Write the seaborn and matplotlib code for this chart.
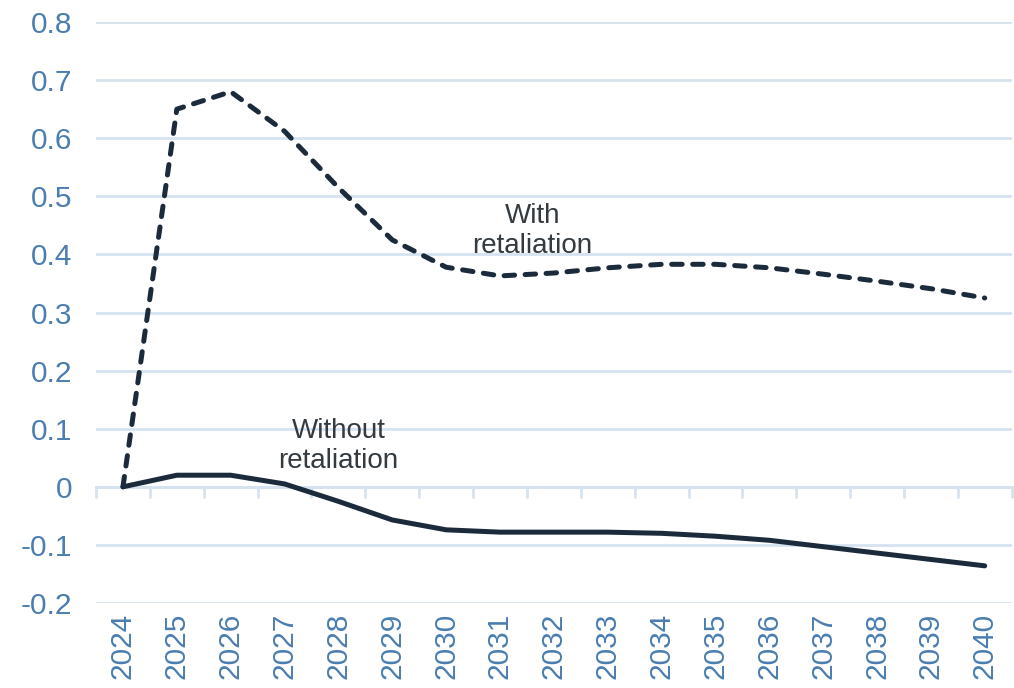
import matplotlib
matplotlib.use("Agg")
import matplotlib.pyplot as plt
import seaborn as sns
import pandas as pd

years = [str(y) for y in range(2024, 2041)]
with_retaliation = [0.0, 0.65, 0.68, 0.612, 0.515, 0.425, 0.378, 0.363, 0.368, 0.377,
                    0.383, 0.383, 0.377, 0.366, 0.354, 0.341, 0.325]
without_retaliation = [0.0, 0.02, 0.02, 0.005, -0.025, -0.057, -0.074, -0.078, -0.078,
                       -0.078, -0.080, -0.085, -0.092, -0.103, -0.114, -0.125, -0.136]
y_ticks = [-0.2, -0.1, 0, 0.1, 0.2, 0.3, 0.4, 0.5, 0.6, 0.7, 0.8]
y_tick_labels = ["-0.2", "-0.1", "0", "0.1", "0.2", "0.3", "0.4", "0.5", "0.6", "0.7", "0.8"]

LINE = "#1b2b3b"
TICK = "#4a7db0"
GRID = "#d5e2ef"
NOTE = "#333a40"

sns.set_theme(style="white")
plt.rcParams["font.family"] = ["Liberation Sans", "DejaVu Sans"]

df = pd.DataFrame({
    "pos": list(range(len(years))) * 2,
    "value": with_retaliation + without_retaliation,
    "scenario": ["With retaliation"] * len(years) + ["Without retaliation"] * len(years),
})

fig = plt.figure(figsize=(10.14, 6.88), dpi=100)
ax = fig.add_axes([0.0947, 0.1235, 0.903, 0.8445])

sns.lineplot(data=df[df.scenario == "Without retaliation"], x="pos", y="value",
             color=LINE, lw=3.6, ax=ax, legend=False, zorder=3,
             solid_capstyle="round", solid_joinstyle="round")
sns.lineplot(data=df[df.scenario == "With retaliation"], x="pos", y="value",
             color=LINE, lw=3.6, ax=ax, legend=False, zorder=3,
             linestyle=(0, (2.1, 2.1)), dash_capstyle="round", dash_joinstyle="round")

ax.set_xlim(-0.5, len(years) - 0.5)
ax.set_ylim(-0.2, 0.8)
ax.set_yticks(y_ticks)
ax.set_yticklabels(y_tick_labels)
ax.set_xticks(range(len(years)))
ax.set_xticklabels(years, rotation=90)
ax.tick_params(axis="y", length=0, pad=17, labelsize=21.5, labelcolor=TICK)
ax.tick_params(axis="x", length=0, pad=7, labelsize=21.5, labelcolor=TICK)
ax.set_xlabel("")
ax.set_ylabel("")
for s in ax.spines.values():
    s.set_visible(False)
ax.yaxis.grid(True, color=GRID, lw=2.0)
ax.set_axisbelow(True)

# category axis drawn along the zero line
sec = ax.secondary_xaxis(0.2)
sec.set_xticks([i - 0.5 for i in range(len(years) + 1)])
sec.set_xticklabels([])
sec.tick_params(axis="x", direction="out", length=8, width=2.0, color=GRID)
sec.spines["bottom"].set_color(GRID)
sec.spines["bottom"].set_linewidth(2.0)
for side in ("top", "left", "right"):
    sec.spines[side].set_visible(False)

ax.text(7.6, 0.44, "With\nretaliation", ha="center", va="center",
        fontsize=20, color=NOTE, linespacing=1.2)
ax.text(4.0, 0.07, "Without\nretaliation", ha="center", va="center",
        fontsize=20, color=NOTE, linespacing=1.2)

fig.savefig("out.png", dpi=100, facecolor="white")
